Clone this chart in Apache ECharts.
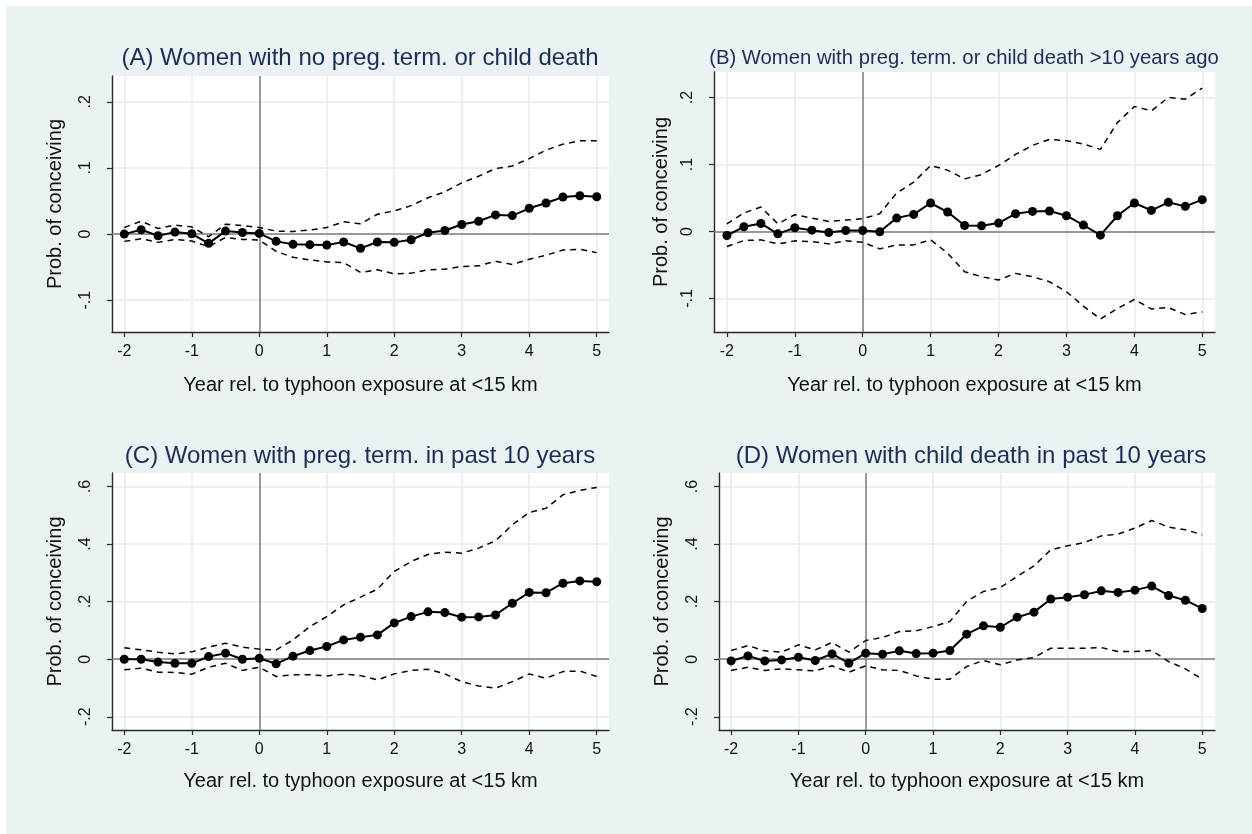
<!DOCTYPE html>
<html>
<head>
<meta charset="utf-8">
<script src="https://cdn.jsdelivr.net/npm/echarts@6/dist/echarts.min.js"></script>
<style>
html,body{margin:0;padding:0;background:#ffffff;}
#wrap{position:relative;width:1252px;height:834px;background:#ffffff;overflow:hidden;}
#bg{position:absolute;left:6px;top:6px;width:1246px;height:828px;background:#eaf2f3;}
#chart{position:absolute;left:0;top:0;width:1252px;height:834px;}
</style>
</head>
<body>
<div id="wrap"><div id="bg"></div><div id="chart"></div></div>
<script>
// ---- Data ----
const years = [-2,-1.75,-1.5,-1.25,-1,-0.75,-0.5,-0.25,0,0.25,0.5,0.75,1,1.25,1.5,1.75,2,2.25,2.5,2.75,3,3.25,3.5,3.75,4,4.25,4.5,4.75,5];
const xTicks = [-2,-1,0,1,2,3,4,5];
const yTicksAB = [-0.1,0,0.1,0.2];
const yTicksCD = [-0.2,0,0.2,0.4,0.6];

const titleA = "(A) Women with no preg. term. or child death";
const titleB = "(B) Women with preg. term. or child death >10 years ago";
const titleC = "(C) Women with preg. term. in past 10 years";
const titleD = "(D) Women with child death in past 10 years";
const xTitle = "Year rel. to typhoon exposure at <15 km";
const yTitle = "Prob. of conceiving";

const estA = [0,0.0065,-0.0025,0.003,0.0005,-0.014,0.0045,0.0025,0.001,-0.011,-0.0155,-0.016,-0.0165,-0.012,-0.0215,-0.012,-0.0125,-0.0085,0.002,0.0055,0.0145,0.0195,0.029,0.028,0.039,0.047,0.056,0.058,0.0565];
const upA = [0.010,0.0195,0.0085,0.0135,0.011,-0.004,0.015,0.013,0.010,0.0045,0.004,0.006,0.010,0.0185,0.0155,0.030,0.035,0.043,0.055,0.064,0.0775,0.0875,0.099,0.103,0.114,0.127,0.136,0.141,0.141];
const loA = [-0.011,-0.007,-0.0125,-0.008,-0.0105,-0.019,-0.005,-0.008,-0.009,-0.026,-0.035,-0.039,-0.042,-0.043,-0.058,-0.054,-0.060,-0.059,-0.054,-0.053,-0.049,-0.048,-0.041,-0.046,-0.038,-0.032,-0.024,-0.023,-0.028];

const estB = [-0.006,0.007,0.012,-0.0035,0.0055,0.002,-0.0015,0.0015,0.0015,-0.0005,0.020,0.0255,0.0425,0.029,0.009,0.0085,0.0125,0.0265,0.030,0.0305,0.0235,0.0095,-0.0055,0.0235,0.0425,0.0315,0.0435,0.0375,0.0475];
const upB = [0.0115,0.0275,0.0365,0.0115,0.025,0.020,0.015,0.017,0.019,0.0265,0.0575,0.0735,0.0985,0.0915,0.0785,0.085,0.0985,0.115,0.1285,0.1375,0.1355,0.1305,0.1225,0.1625,0.1865,0.18,0.20,0.1975,0.214];
const loB = [-0.0225,-0.0135,-0.0125,-0.0185,-0.014,-0.015,-0.0185,-0.014,-0.016,-0.026,-0.020,-0.020,-0.0125,-0.0325,-0.060,-0.0675,-0.0725,-0.0625,-0.0675,-0.075,-0.090,-0.1115,-0.1305,-0.115,-0.1015,-0.1155,-0.1135,-0.124,-0.120];

const estC = [0.0,0.0,-0.01,-0.014,-0.014,0.009,0.021,0.0,0.0035,-0.016,0.0105,0.030,0.044,0.067,0.0765,0.0845,0.126,0.148,0.1645,0.162,0.146,0.147,0.154,0.1945,0.232,0.231,0.264,0.272,0.269];
const upC = [0.0395,0.0325,0.0245,0.0185,0.0255,0.042,0.0555,0.042,0.035,0.0325,0.067,0.1135,0.148,0.189,0.2155,0.2435,0.305,0.3395,0.364,0.372,0.3685,0.386,0.4115,0.467,0.510,0.5245,0.5715,0.5865,0.597];
const loC = [-0.037,-0.031,-0.045,-0.046,-0.052,-0.028,-0.014,-0.039,-0.028,-0.060,-0.054,-0.054,-0.058,-0.052,-0.057,-0.072,-0.051,-0.039,-0.035,-0.051,-0.078,-0.093,-0.101,-0.078,-0.051,-0.066,-0.043,-0.041,-0.060];

const estD = [-0.006,0.0115,-0.006,-0.0025,0.007,-0.0045,0.0185,-0.014,0.021,0.0175,0.029,0.0195,0.021,0.030,0.087,0.116,0.111,0.146,0.1635,0.209,0.2155,0.224,0.2375,0.232,0.240,0.254,0.2215,0.205,0.176];
const upD = [0.030,0.0475,0.029,0.0245,0.050,0.0325,0.058,0.0245,0.065,0.0755,0.096,0.0985,0.1135,0.131,0.2005,0.2355,0.249,0.2875,0.3245,0.380,0.394,0.4055,0.4285,0.4345,0.4555,0.482,0.459,0.450,0.4325];
const loD = [-0.039,-0.028,-0.039,-0.0335,-0.037,-0.0405,-0.023,-0.045,-0.023,-0.037,-0.039,-0.058,-0.0695,-0.0695,-0.0255,-0.0045,-0.0195,-0.0025,0.006,0.038,0.038,0.038,0.0405,0.0265,0.0265,0.030,-0.008,-0.0335,-0.0695];

// ---- Layout / style ----
const panels = [
  {title: titleA, tsize: 24, est: estA, up: upA, lo: loA, yTicks: yTicksAB,
   grid: {left: 112, top: 76, width: 497, height: 256}, xr: [-2.182, 5.182], yr: [-0.148, 0.239],
   titleX: 355, titleTop: 41, yGap: 47, xGap: 43},
  {title: titleB, tsize: 20.3, est: estB, up: upB, lo: loB, yTicks: yTicksAB,
   grid: {left: 714, top: 72, width: 501, height: 260}, xr: [-2.19, 5.187], yr: [-0.150, 0.238],
   titleX: 959, titleTop: 43, yGap: 43, xGap: 43},
  {title: titleC, tsize: 24, est: estC, up: upC, lo: loC, yTicks: yTicksCD,
   grid: {left: 112, top: 473, width: 497, height: 257}, xr: [-2.182, 5.182], yr: [-0.246, 0.647],
   titleX: 355, titleTop: 439, yGap: 47, xGap: 41},
  {title: titleD, tsize: 24, est: estD, up: upD, lo: loD, yTicks: yTicksCD,
   grid: {left: 719, top: 473, width: 496, height: 257}, xr: [-2.18, 5.19], yr: [-0.246, 0.647],
   titleX: 966, titleTop: 439, yGap: 47, xGap: 41}
];

const FONT = "'Liberation Sans', Arial, sans-serif";
const titleColor = '#1c2d55';
const gridColor = '#e5edef';
const zeroColor = '#7d7d7d';

function fmtY(v) {
  const r = Math.round(v * 10) / 10;
  if (r === 0) return '0';
  return String(r).replace('0.', '.');
}
function pairs(vals) { return years.map((x, i) => [x, vals[i]]); }

const option = {
  animation: false,
  backgroundColor: 'transparent',
  title: [], grid: [], xAxis: [], yAxis: [], series: []
};

panels.forEach((p, i) => {
  option.title.push({
    text: p.title, left: p.titleX, top: p.titleTop, textAlign: 'center',
    textStyle: {fontFamily: FONT, fontSize: p.tsize, fontWeight: 'normal', color: titleColor}
  });
  option.grid.push(Object.assign({show: true, backgroundColor: '#ffffff', borderWidth: 0}, p.grid));
  option.xAxis.push({
    type: 'value', gridIndex: i, min: p.xr[0], max: p.xr[1],
    name: xTitle, nameLocation: 'middle', nameGap: p.xGap,
    nameTextStyle: {fontFamily: FONT, fontSize: 20, color: '#111'},
    axisLine: {show: true, onZero: false, lineStyle: {color: '#2a2a2a', width: 1.4}},
    axisTick: {show: true, length: 5, lineStyle: {color: '#2a2a2a', width: 1.2}, customValues: xTicks},
    axisLabel: {fontFamily: FONT, fontSize: 16, color: '#111', margin: 12, customValues: xTicks,
      formatter: v => String(v)},
    splitLine: {show: true, customValues: xTicks, lineStyle: {color: gridColor, width: 1.5}}
  });
  option.yAxis.push({
    type: 'value', gridIndex: i, min: p.yr[0], max: p.yr[1],
    name: yTitle, nameLocation: 'middle', nameGap: p.yGap, nameRotate: 90,
    nameTextStyle: {fontFamily: FONT, fontSize: 20, color: '#111'},
    axisLine: {show: true, onZero: false, lineStyle: {color: '#2a2a2a', width: 1.4}},
    axisTick: {show: true, length: 5, lineStyle: {color: '#2a2a2a', width: 1.2}, customValues: p.yTicks},
    axisLabel: {fontFamily: FONT, fontSize: 16, color: '#111', margin: 18, rotate: 90, customValues: p.yTicks,
      formatter: fmtY},
    splitLine: {show: true, customValues: p.yTicks, lineStyle: {color: gridColor, width: 1.5}}
  });
  const dash = {color: '#000', width: 1.5, type: [6, 5]};
  option.series.push({
    type: 'line', xAxisIndex: i, yAxisIndex: i, data: pairs(p.lo), symbol: 'none',
    lineStyle: dash, z: 3, silent: true
  });
  option.series.push({
    type: 'line', xAxisIndex: i, yAxisIndex: i, data: pairs(p.up), symbol: 'none',
    lineStyle: dash, z: 3, silent: true
  });
  option.series.push({
    type: 'line', xAxisIndex: i, yAxisIndex: i, data: pairs(p.est),
    symbol: 'circle', symbolSize: 9, itemStyle: {color: '#000'},
    lineStyle: {color: '#000', width: 2}, z: 4, silent: true,
    markLine: {
      silent: true, symbol: ['none', 'none'], label: {show: false}, z: 2,
      lineStyle: {color: zeroColor, width: 1.5, type: 'solid'},
      emphasis: {disabled: true},
      data: [{xAxis: 0}, {yAxis: 0}]
    }
  });
});

const chart = echarts.init(document.getElementById('chart'), null, {renderer: 'canvas'});
chart.setOption(option);
</script>
</body>
</html>
